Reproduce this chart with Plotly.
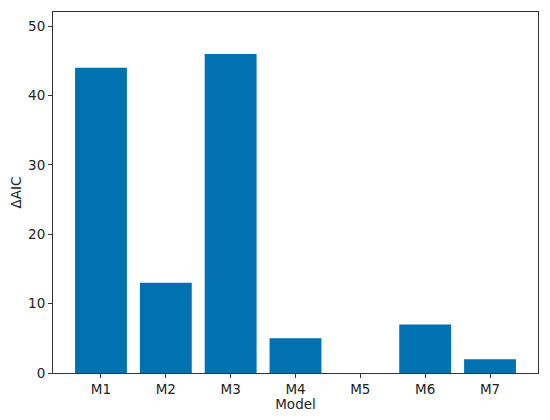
import plotly.graph_objects as go

models = ['M1', 'M2', 'M3', 'M4', 'M5', 'M6', 'M7']
delta_aic = [44, 13, 46, 5, 0, 7, 2]
y_ticks = [0, 10, 20, 30, 40, 50]

BAR_COLOR = '#0072B2'
AXIS_COLOR = '#333333'

# the page body adds an 8px margin, so the figure is sized to fit the window
fig = go.Figure(go.Bar(
    x=list(range(len(models))),
    y=delta_aic,
    width=0.8,
    marker={'color': BAR_COLOR, 'line': {'width': 0}},
))

fig.update_layout(
    width=542, height=404,
    margin={'l': 45, 'r': 12, 't': 4, 'b': 39, 'autoexpand': False},
    plot_bgcolor='white',
    paper_bgcolor='white',
    font={'family': 'DejaVu Sans', 'size': 13.5, 'color': '#222222'},
    showlegend=False,
    xaxis={
        'range': [-0.74, 6.74],
        'tickmode': 'array',
        'tickvals': list(range(len(models))),
        'ticktext': models,
        'showgrid': False,
        'zeroline': False,
        'automargin': False,
        'showline': True, 'linecolor': AXIS_COLOR, 'linewidth': 1, 'mirror': True,
        'ticks': 'outside', 'ticklen': 4, 'tickcolor': AXIS_COLOR,
        'title': {'text': 'Model', 'standoff': 4, 'font': {'size': 13.5}},
    },
    yaxis={
        'range': [0, 52.05],
        'tickmode': 'array',
        'tickvals': y_ticks,
        'showgrid': False,
        'zeroline': False,
        'automargin': False,
        'showline': True, 'linecolor': AXIS_COLOR, 'linewidth': 1, 'mirror': True,
        'ticks': 'outside', 'ticklen': 4, 'tickcolor': AXIS_COLOR,
        'title': {'text': 'ΔAIC', 'standoff': 11, 'font': {'size': 13.5}},
    },
)

fig.write_html('out.html')
